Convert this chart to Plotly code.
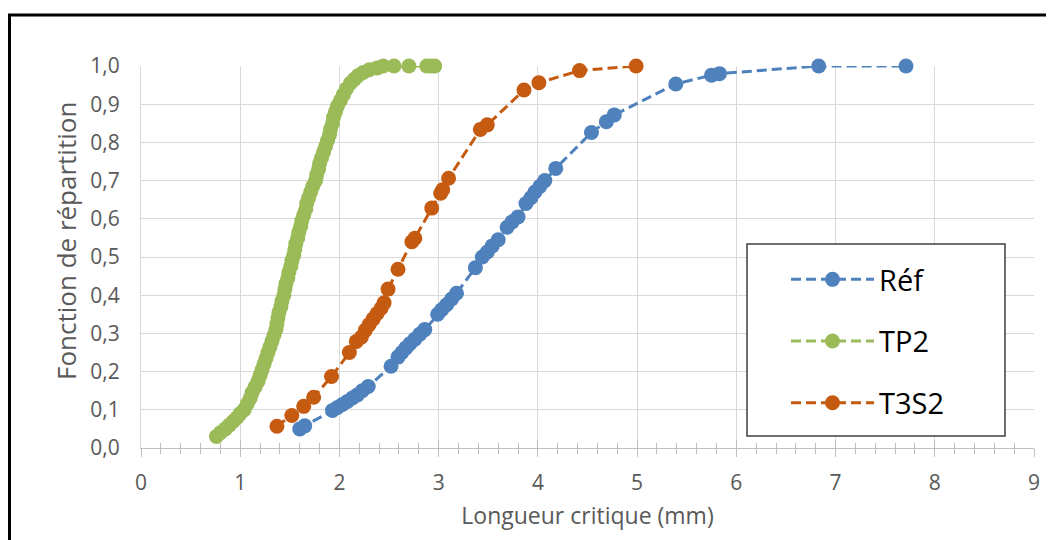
import plotly.graph_objects as go

# ---------------- data ----------------
ref_x = [1.60, 1.65, 1.93, 1.98, 2.03, 2.08, 2.13, 2.18, 2.23, 2.29, 2.52, 2.59, 2.63, 2.67, 2.71,
         2.76, 2.81, 2.86, 2.99, 3.03, 3.08, 3.13, 3.18, 3.37, 3.44, 3.49, 3.54, 3.60, 3.69, 3.74,
         3.80, 3.88, 3.93, 3.97, 4.02, 4.07, 4.18, 4.54, 4.69, 4.77, 5.39, 5.75, 5.83, 6.83, 7.71]
ref_y = [0.050, 0.058, 0.098, 0.106, 0.114, 0.122, 0.131, 0.139, 0.150, 0.161, 0.214, 0.238, 0.250,
         0.262, 0.273, 0.285, 0.298, 0.310, 0.350, 0.362, 0.375, 0.390, 0.405, 0.472, 0.500, 0.513,
         0.529, 0.545, 0.578, 0.592, 0.605, 0.640, 0.655, 0.670, 0.685, 0.700, 0.732, 0.826, 0.854,
         0.872, 0.953, 0.976, 0.980, 1.000, 1.000]

tp2_x = [0.76, 0.80, 0.85, 0.89, 0.93, 0.97, 1.00, 1.04, 1.07, 1.10, 1.12, 1.15, 1.18, 1.20, 1.22,
         1.24, 1.26, 1.28, 1.30, 1.32, 1.34, 1.36, 1.37, 1.38, 1.39, 1.41, 1.42, 1.44, 1.45, 1.46,
         1.48, 1.49, 1.51, 1.52, 1.54, 1.55, 1.56, 1.58, 1.59, 1.61, 1.62, 1.64, 1.66, 1.67, 1.69,
         1.71, 1.73, 1.76, 1.77, 1.79, 1.80, 1.82, 1.84, 1.86, 1.88, 1.90, 1.91, 1.93, 1.94, 1.96,
         1.98, 2.01, 2.04, 2.07, 2.11, 2.15, 2.19, 2.24, 2.30, 2.38, 2.44, 2.55, 2.70, 2.88, 2.92,
         2.96]
tp2_y = [0.030, 0.040, 0.050, 0.060, 0.070, 0.080, 0.090, 0.100, 0.115, 0.130, 0.145, 0.160, 0.175,
         0.190, 0.205, 0.220, 0.235, 0.250, 0.265, 0.280, 0.295, 0.310, 0.325, 0.340, 0.355, 0.370,
         0.385, 0.400, 0.415, 0.430, 0.445, 0.460, 0.475, 0.490, 0.505, 0.520, 0.535, 0.550, 0.565,
         0.580, 0.595, 0.610, 0.625, 0.640, 0.655, 0.670, 0.685, 0.700, 0.715, 0.730, 0.745, 0.760,
         0.775, 0.790, 0.805, 0.820, 0.835, 0.850, 0.865, 0.880, 0.895, 0.910, 0.925, 0.940, 0.955,
         0.965, 0.975, 0.983, 0.990, 0.995, 1.000, 1.000, 1.000, 1.000, 1.000, 1.000]

t3s2_x = [1.37, 1.52, 1.64, 1.74, 1.92, 2.10, 2.17, 2.22, 2.26, 2.30, 2.34, 2.38, 2.42, 2.45, 2.49,
          2.59, 2.73, 2.76, 2.93, 3.02, 3.04, 3.10, 3.42, 3.49, 3.86, 4.01, 4.42, 4.99]
t3s2_y = [0.057, 0.085, 0.109, 0.133, 0.187, 0.250, 0.279, 0.290, 0.308, 0.323, 0.338, 0.352, 0.366,
          0.380, 0.416, 0.468, 0.540, 0.549, 0.628, 0.667, 0.676, 0.706, 0.834, 0.846, 0.937, 0.956,
          0.988, 1.000]

series_names = ["Réf", "TP2", "T3S2"]
x_tick_vals = [0, 1, 2, 3, 4, 5, 6, 7, 8, 9]
y_tick_vals = [0.0, 0.1, 0.2, 0.3, 0.4, 0.5, 0.6, 0.7, 0.8, 0.9, 1.0]
x_title = "Longueur critique (mm)"
y_title = "Fonction de répartition"

# ---------------- styling ----------------
colors = ["#4F81BD", "#9BBB59", "#C55A11"]
FONT = "Open Sans"
OFF = 8  # page body margin: figure pixel = screen pixel - OFF
W, H = 1054, 540
# plot area in screen pixels: x 141..1034, y 66..448
L, T = 141 - OFF, 66 - OFF
R = W - (1034 - OFF)
B = H - (448 - OFF)
pw, ph = W - L - R, H - T - B


def px2paper(sx, sy):
    fx, fy = sx - OFF, sy - OFF
    return (fx - L) / pw, (H - B - fy) / ph


fig = go.Figure()
for i, (xs, ys) in enumerate([(ref_x, ref_y), (tp2_x, tp2_y), (t3s2_x, t3s2_y)]):
    fig.add_trace(go.Scatter(
        x=xs, y=ys, mode="lines+markers", name=series_names[i],
        legendgroup=series_names[i],
        line=dict(color=colors[i], width=3, dash="10px,5px"),
        marker=dict(color=colors[i], size=15, symbol="circle"),
        cliponaxis=False,
    ))

# empty trace carrying the overlay axis that draws the upper halves of the x ticks
fig.add_trace(go.Scatter(x=[], y=[], xaxis="x2", showlegend=False, hoverinfo="skip"))

# outer frame and legend box
fx0, fy0 = px2paper(OFF + 1.5, 560)
fx1, fy1 = px2paper(1080, 15)
lx0, ly0 = px2paper(747, 436)
lx1, ly1 = px2paper(1005, 244)
shapes = [
    dict(type="rect", xref="paper", yref="paper", x0=fx0, y0=fy0, x1=fx1, y1=fy1,
         line=dict(color="#000000", width=3), layer="above"),
    dict(type="rect", xref="paper", yref="paper", x0=lx0, y0=ly0, x1=lx1, y1=ly1,
         line=dict(color="#404040", width=1.5), fillcolor="white", layer="above"),
]

leg_x, leg_y = px2paper(786, 254)
yt_x, yt_y = px2paper(66, 241)

fig.update_layout(
    width=W, height=H,
    margin=dict(l=L, r=R, t=T, b=B, autoexpand=False),
    paper_bgcolor="white", plot_bgcolor="white",
    separators=", ",
    font=dict(family=FONT, color="#595959"),
    showlegend=True,
    legend=dict(
        x=leg_x, y=leg_y, xanchor="left", yanchor="top",
        bgcolor="rgba(0,0,0,0)", borderwidth=0,
        font=dict(family=FONT, size=29, color="#000000"),
        itemwidth=83, tracegroupgap=21,
    ),
    shapes=shapes,
    annotations=[dict(
        text=y_title, xref="paper", yref="paper", x=yt_x, y=yt_y,
        xanchor="center", yanchor="middle", textangle=-90, showarrow=False,
        font=dict(family=FONT, size=26, color="#595959"),
    )],
    xaxis=dict(
        range=[0, 9], tickvals=x_tick_vals, ticktext=[str(v) for v in x_tick_vals],
        showgrid=True, gridcolor="#D9D9D9", gridwidth=1, zeroline=False,
        showline=True, linecolor="#BFBFBF", linewidth=1,
        ticks="outside", ticklen=8, tickcolor="#BFBFBF", tickwidth=1,
        minor=dict(dtick=0.2, ticks="outside", ticklen=5, tickcolor="#BFBFBF", showgrid=False),
        tickfont=dict(family=FONT, size=21, color="#595959"),
        ticklabelstandoff=8,
        title=dict(text=x_title, font=dict(family=FONT, size=23, color="#595959"),
                   standoff=12),
        fixedrange=True,
    ),
    xaxis2=dict(
        range=[0, 9], overlaying="x", anchor="y", side="bottom",
        tickvals=x_tick_vals, showticklabels=False, showgrid=False, zeroline=False,
        showline=False, ticks="inside", ticklen=8, tickcolor="#BFBFBF", tickwidth=1,
        minor=dict(dtick=0.2, ticks="inside", ticklen=5, tickcolor="#BFBFBF", showgrid=False),
    ),
    yaxis=dict(
        range=[0, 1.0], tickvals=y_tick_vals, tickformat=".1f",
        showgrid=True, gridcolor="#D9D9D9", gridwidth=1, zeroline=False,
        showline=True, linecolor="#D9D9D9", linewidth=1, ticks="",
        tickfont=dict(family=FONT, size=21, color="#595959"),
        ticklabelstandoff=16,
        fixedrange=True,
    ),
)

fig.write_html("out.html")
